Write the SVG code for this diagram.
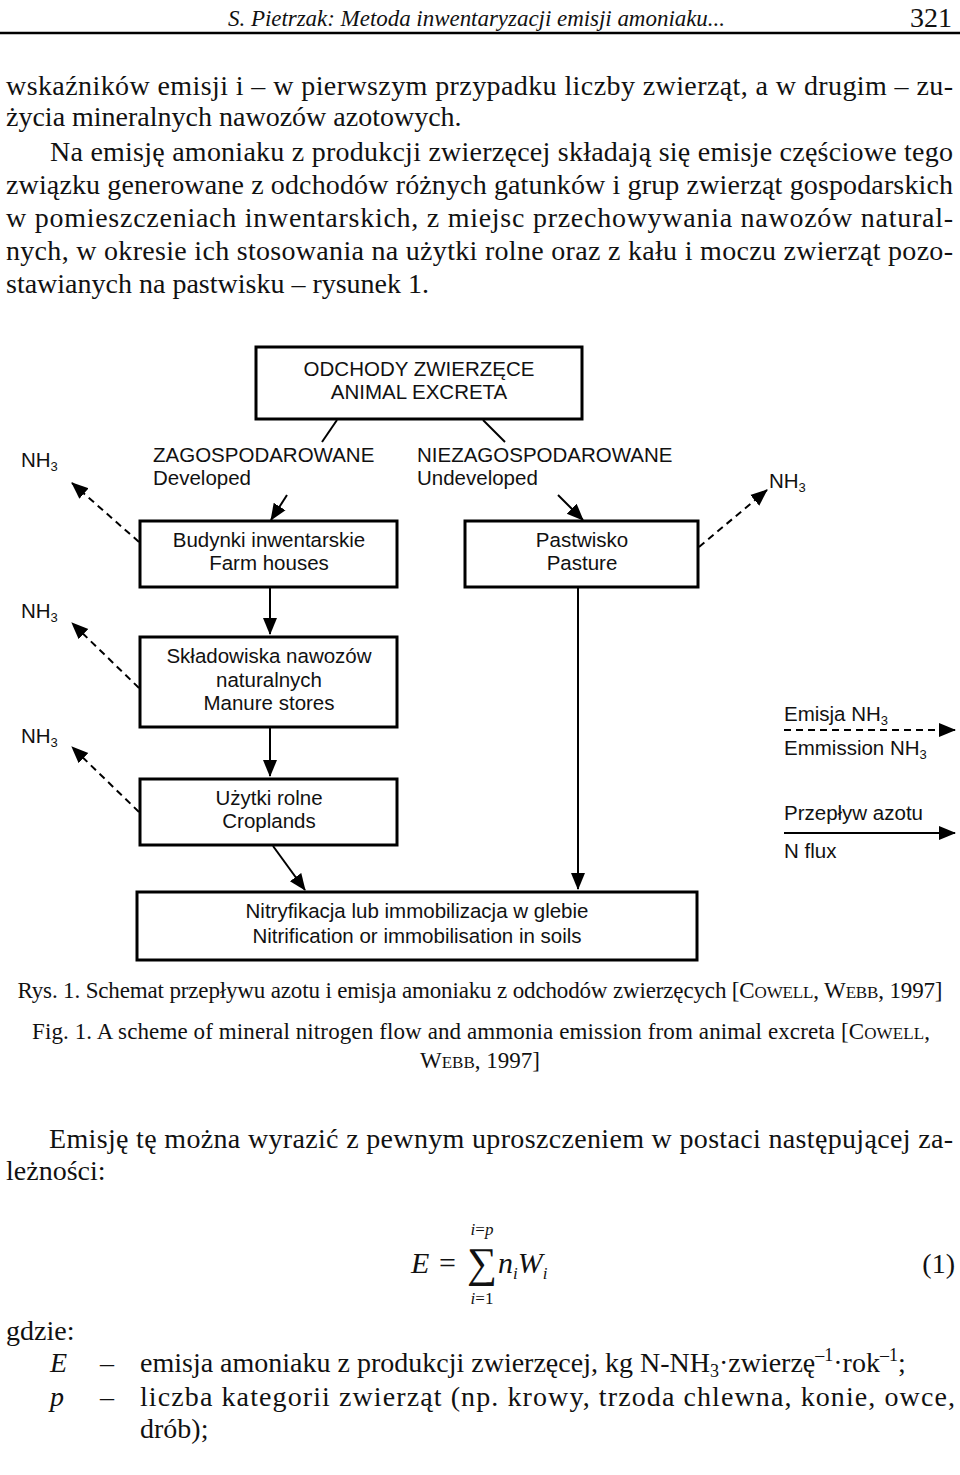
<svg xmlns="http://www.w3.org/2000/svg" width="960" height="1475" viewBox="0 0 960 1475">
<style>
.body{font-family:"Liberation Serif","Times New Roman",serif;font-size:28px;fill:#111}
.cap{font-family:"Liberation Serif","Times New Roman",serif;font-size:23px;fill:#111}
.hd{font-family:"Liberation Serif","Times New Roman",serif;font-size:23px;font-style:italic;fill:#111}
.dg{font-family:"Liberation Sans",Arial,sans-serif;font-size:20.5px;fill:#111}
.sub{font-size:13px}
.box{fill:#fff;stroke:#000;stroke-width:3}
.ln{fill:none;stroke:#000;stroke-width:2}
.ds{fill:none;stroke:#000;stroke-width:2;stroke-dasharray:7 5}
.it{font-style:italic}
</style>
<defs>
<marker id="ah" markerUnits="userSpaceOnUse" markerWidth="17" markerHeight="16" viewBox="0 0 17 16" refX="16" refY="8" orient="auto">
<path d="M0,1 L17,8 L0,15 z" fill="#000"/>
</marker>
</defs>
<rect x="0" y="0" width="960" height="1475" fill="#fff"/>

<!-- header -->
<g id="header">
<text class="hd" x="228" y="26" textLength="497">S. Pietrzak: Metoda inwentaryzacji emisji amoniaku...</text>
<text class="body" x="952" y="27" text-anchor="end">321</text>
<line x1="0" y1="33" x2="960" y2="33" stroke="#000" stroke-width="2.5"/>
</g>

<!-- paragraph -->
<g id="paragraph">
<text class="body" x="6" y="95" textLength="947">wskaźników emisji i – w pierwszym przypadku liczby zwierząt, a w drugim – zu-</text>
<text class="body" x="6" y="126">życia mineralnych nawozów azotowych.</text>
<text class="body" x="50" y="161" textLength="903">Na emisję amoniaku z produkcji zwierzęcej składają się emisje częściowe tego</text>
<text class="body" x="6" y="194" textLength="947">związku generowane z odchodów różnych gatunków i grup zwierząt gospodarskich</text>
<text class="body" x="6" y="227" textLength="947">w pomieszczeniach inwentarskich, z miejsc przechowywania nawozów natural-</text>
<text class="body" x="6" y="260" textLength="947">nych, w okresie ich stosowania na użytki rolne oraz z kału i moczu zwierząt pozo-</text>
<text class="body" x="6" y="293">stawianych na pastwisku – rysunek 1.</text>
</g>

<!-- connectors -->
<g id="connectors">
<line class="ln" x1="337" y1="420" x2="322" y2="442"/>
<line class="ln" x1="483" y1="420" x2="505" y2="442"/>
<line class="ln" x1="287" y1="495" x2="271" y2="520" marker-end="url(#ah)"/>
<line class="ln" x1="558" y1="495" x2="583" y2="520" marker-end="url(#ah)"/>
<line class="ln" x1="270" y1="588" x2="270" y2="634" marker-end="url(#ah)"/>
<line class="ln" x1="270" y1="728" x2="270" y2="776" marker-end="url(#ah)"/>
<line class="ln" x1="273" y1="846" x2="305" y2="890" marker-end="url(#ah)"/>
<line class="ln" x1="578" y1="588" x2="578" y2="889" marker-end="url(#ah)"/>
<line class="ds" x1="139" y1="542" x2="72" y2="483" marker-end="url(#ah)"/>
<line class="ds" x1="139" y1="688" x2="72" y2="623" marker-end="url(#ah)"/>
<line class="ds" x1="139" y1="812" x2="72" y2="747" marker-end="url(#ah)"/>
<line class="ds" x1="699" y1="547" x2="767" y2="490" marker-end="url(#ah)"/>
<line class="ds" x1="784" y1="730" x2="955" y2="730" marker-end="url(#ah)"/>
<line class="ln" x1="784" y1="833" x2="955" y2="833" marker-end="url(#ah)"/>
</g>

<!-- nodes -->
<g id="excreta">
<rect class="box" x="256" y="347" width="326" height="72"/>
<text class="dg" x="419" y="376" text-anchor="middle">ODCHODY ZWIERZĘCE</text>
<text class="dg" x="419" y="399" text-anchor="middle">ANIMAL EXCRETA</text>
</g>
<g id="developed">
<text class="dg" x="153" y="462">ZAGOSPODAROWANE</text>
<text class="dg" x="153" y="485">Developed</text>
</g>
<g id="undeveloped">
<text class="dg" x="417" y="462">NIEZAGOSPODAROWANE</text>
<text class="dg" x="417" y="485">Undeveloped</text>
</g>
<g id="farmhouses">
<rect class="box" x="140" y="521" width="257" height="66"/>
<text class="dg" x="269" y="547" text-anchor="middle">Budynki inwentarskie</text>
<text class="dg" x="269" y="570" text-anchor="middle">Farm houses</text>
</g>
<g id="pasture">
<rect class="box" x="465" y="521" width="233" height="66"/>
<text class="dg" x="582" y="547" text-anchor="middle">Pastwisko</text>
<text class="dg" x="582" y="570" text-anchor="middle">Pasture</text>
</g>
<g id="manure">
<rect class="box" x="140" y="637" width="257" height="90"/>
<text class="dg" x="269" y="663" text-anchor="middle">Składowiska nawozów</text>
<text class="dg" x="269" y="687" text-anchor="middle">naturalnych</text>
<text class="dg" x="269" y="710" text-anchor="middle">Manure stores</text>
</g>
<g id="croplands">
<rect class="box" x="140" y="779" width="257" height="66"/>
<text class="dg" x="269" y="805" text-anchor="middle">Użytki rolne</text>
<text class="dg" x="269" y="828" text-anchor="middle">Croplands</text>
</g>
<g id="soils">
<rect class="box" x="137" y="892" width="560" height="68"/>
<text class="dg" x="417" y="918" text-anchor="middle">Nitryfikacja lub immobilizacja w glebie</text>
<text class="dg" x="417" y="943" text-anchor="middle">Nitrification or immobilisation in soils</text>
</g>
<g id="nh3-1"><text class="dg" x="21" y="467">NH<tspan class="sub" dy="4">3</tspan></text></g>
<g id="nh3-2"><text class="dg" x="21" y="618">NH<tspan class="sub" dy="4">3</tspan></text></g>
<g id="nh3-3"><text class="dg" x="21" y="743">NH<tspan class="sub" dy="4">3</tspan></text></g>
<g id="nh3-4"><text class="dg" x="769" y="488">NH<tspan class="sub" dy="4">3</tspan></text></g>
<g id="legend">
<text class="dg" x="784" y="721">Emisja NH<tspan class="sub" dy="4">3</tspan></text>
<text class="dg" x="784" y="755">Emmission NH<tspan class="sub" dy="4">3</tspan></text>
<text class="dg" x="784" y="820">Przepływ azotu</text>
<text class="dg" x="784" y="858">N flux</text>
</g>

<!-- captions -->
<g id="captions">
<text class="cap" x="480" y="998" text-anchor="middle" textLength="925">Rys. 1. Schemat przepływu azotu i emisja amoniaku z odchodów zwierzęcych [C<tspan font-size="17">OWELL</tspan>, W<tspan font-size="17">EBB</tspan>, 1997]</text>
<text class="cap" x="481" y="1039" text-anchor="middle" textLength="898">Fig. 1. A scheme of mineral nitrogen flow and ammonia emission from animal excreta [C<tspan font-size="17">OWELL</tspan>,</text>
<text class="cap" x="480" y="1068" text-anchor="middle">W<tspan font-size="17">EBB</tspan>, 1997]</text>
</g>

<!-- text after figure -->
<g id="text2">
<text class="body" x="49" y="1148" textLength="904">Emisję tę można wyrazić z pewnym uproszczeniem w postaci następującej za-</text>
<text class="body" x="6" y="1180">leżności:</text>
</g>

<!-- formula -->
<g id="formula" font-family="Liberation Serif, Times New Roman, serif" fill="#111">
<text x="411" y="1273" font-size="30" font-style="italic">E</text>
<text x="439" y="1273" font-size="30">=</text>
<text x="482" y="1277" font-size="42" text-anchor="middle">∑</text>
<text x="482" y="1235" font-size="17" text-anchor="middle"><tspan font-style="italic">i</tspan>=<tspan font-style="italic">p</tspan></text>
<text x="482" y="1304" font-size="17" text-anchor="middle"><tspan font-style="italic">i</tspan>=1</text>
<text x="498" y="1273" font-size="30" font-style="italic">n<tspan font-size="17" dy="6">i</tspan><tspan dy="-6">W</tspan><tspan font-size="17" dy="6">i</tspan></text>
<text x="955" y="1273" font-size="28" text-anchor="end">(1)</text>
</g>

<!-- legend of symbols -->
<g id="where">
<text class="body" x="6" y="1340">gdzie:</text>
<text class="body it" x="50" y="1372">E</text>
<text class="body" x="100" y="1372">–</text>
<text class="body" x="140" y="1372">emisja amoniaku z produkcji zwierzęcej, kg N-NH<tspan font-size="18" dy="5">3</tspan><tspan dy="-5">·zwierzę</tspan><tspan font-size="18" dy="-11">–1</tspan><tspan dy="11">·rok</tspan><tspan font-size="18" dy="-11">–1</tspan><tspan dy="11">;</tspan></text>
<text class="body it" x="50" y="1406">p</text>
<text class="body" x="100" y="1406">–</text>
<text class="body" x="140" y="1406" textLength="815">liczba kategorii zwierząt (np. krowy, trzoda chlewna, konie, owce,</text>
<text class="body" x="140" y="1438">drób);</text>
</g>
</svg>
